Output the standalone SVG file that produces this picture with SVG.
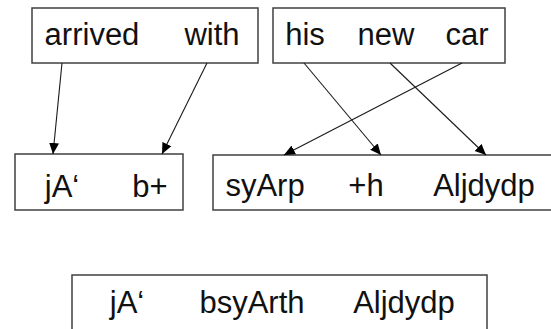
<svg xmlns="http://www.w3.org/2000/svg" width="551" height="329" viewBox="0 0 551 329">
<style>
.box{fill:#fff;stroke:#404040;stroke-width:1.5}
.t{font-family:"Liberation Sans",Arial,sans-serif;font-size:31px;fill:#111;text-anchor:middle}
.c{stroke:#1a1a1a;stroke-width:1.1;fill:none;marker-end:url(#ah)}
</style>
<defs>
<marker id="ah" viewBox="0 0 10 10" refX="10" refY="5" markerWidth="11" markerHeight="11" markerUnits="userSpaceOnUse" orient="auto">
<path d="M0,0.5 L10,5 L0,9.5 Z" fill="#000"/>
</marker>
</defs>
<g id="n-arrived-with">
<rect class="box" x="32" y="8" width="226" height="55"/>
<text class="t" x="92" y="45">arrived</text>
<text class="t" x="212" y="45">with</text>
</g>
<g id="n-his-new-car">
<rect class="box" x="273" y="8" width="232" height="55"/>
<text class="t" x="305" y="45">his</text>
<text class="t" x="386" y="45">new</text>
<text class="t" x="467" y="45">car</text>
</g>
<g id="n-jA-b">
<rect class="box" x="15" y="154" width="168" height="56"/>
<text class="t" x="62" y="197">jA‘</text>
<text class="t" x="150" y="197">b+</text>
</g>
<g id="n-syArp">
<rect class="box" x="213" y="155" width="340" height="55"/>
<text class="t" x="265" y="196">syArp</text>
<text class="t" x="366" y="196">+h</text>
<text class="t" x="484" y="196">Aljdydp</text>
</g>
<g id="n-result">
<rect class="box" x="72" y="275" width="415" height="60"/>
<text class="t" x="127" y="313">jA‘</text>
<text class="t" x="252" y="313">bsyArth</text>
<text class="t" x="404" y="313">Aljdydp</text>
</g>
<g id="connectors">
<line class="c" x1="62" y1="63" x2="53" y2="154"/>
<line class="c" x1="207" y1="63" x2="162" y2="154"/>
<line class="c" x1="304" y1="63" x2="381" y2="155"/>
<line class="c" x1="390" y1="63" x2="486" y2="155"/>
<line class="c" x1="462" y1="63" x2="284" y2="155"/>
</g>
</svg>
